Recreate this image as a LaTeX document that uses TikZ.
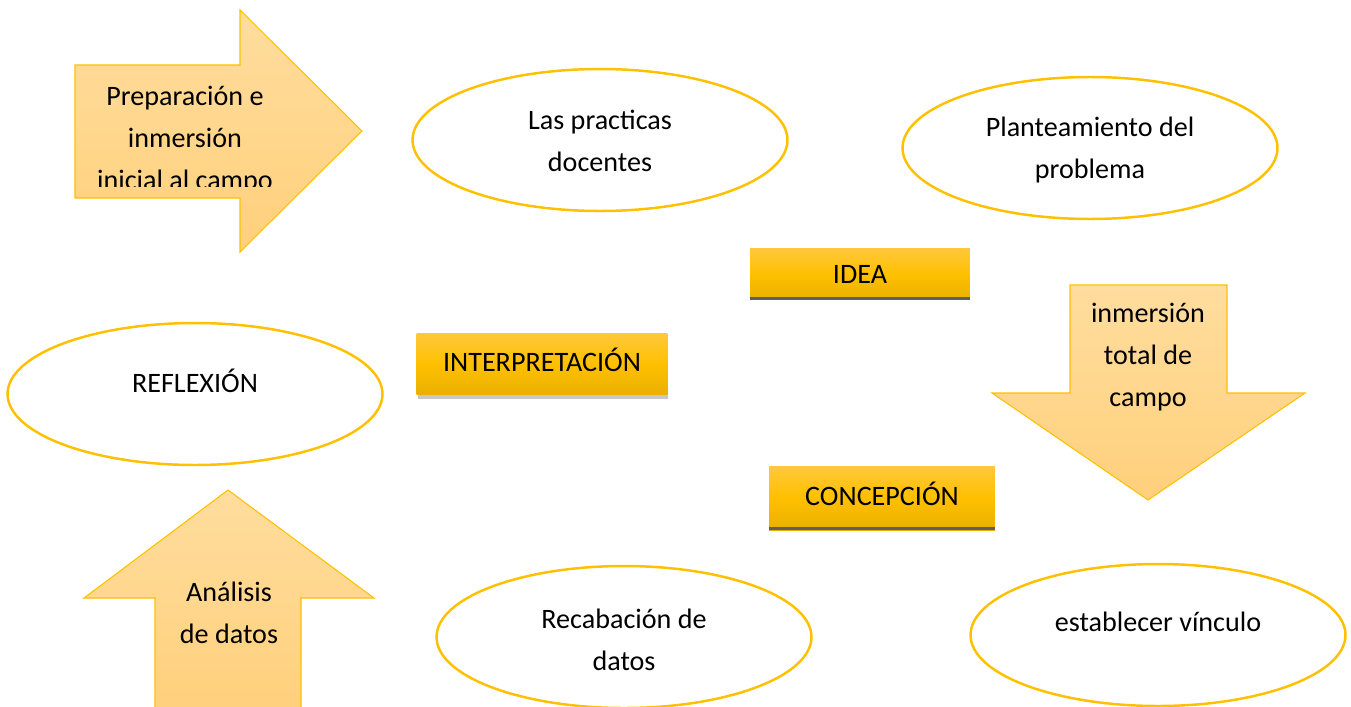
\documentclass[tikz,border=0pt]{standalone}
\usepackage{fontspec}
\setmainfont{Carlito}
\usetikzlibrary{shapes.geometric,shadows}

\definecolor{oro}{HTML}{FFC000}
\definecolor{orotop}{HTML}{FFC83C}
\definecolor{orobot}{HTML}{E9B000}
\definecolor{flechatop}{HTML}{FFDD9E}
\definecolor{flechabot}{HTML}{FFD07C}
\definecolor{raya}{HTML}{5E5E5E}

\tikzset{
  flecha/.style={draw=oro, line width=0.6pt, top color=flechatop, bottom color=flechabot},
  ovalo/.style={ellipse, draw=oro, line width=1.4pt, minimum width=7.5cm, minimum height=2.84cm},
  caja/.style={rectangle, inner sep=0pt, top color=orotop, bottom color=orobot, middle color=oro,
    font=\fontsize{16}{19}\selectfont},
  texto/.style={align=center, inner sep=0pt, font=\fontsize{16}{23.9}\selectfont},
}

\begin{document}
\begin{tikzpicture}[x=0.02cm, y=-0.02cm]
				\clip (0,0) rectangle (1351,706);
				
				% flechas
				\draw[flecha] (75,65) -- (240,65) -- (240,10) -- (362,131) -- (240,252) -- (240,198) -- (75,198) -- cycle;
				\draw[flecha] (1070,285) -- (1227,285) -- (1227,393) -- (1305,393) -- (1148,500) -- (992,393) -- (1070,393) -- cycle;
				\draw[flecha] (155,712) -- (155,598) -- (84,598) -- (228,490) -- (374,598) -- (301,598) -- (301,712);
				
				\begin{scope}
					\clip (60,60) rectangle (300,186);
					\node[texto] (preparacion) at (185,140) {Preparación e\\inmersión\\inicial al campo};
				\end{scope}
				\node[texto] (inmersion) at (1148,357) {inmersión\\total de\\campo};
				\node[texto] (analisis) at (229,613) {Análisis\\de datos};
				
				% ovalos
				\node[ovalo] (practicas) at (600,140) {};
				\node[ovalo] (planteamiento) at (1090,148) {};
				\node[ovalo] (reflexion) at (195,394) {};
				\node[ovalo] (recabacion) at (624,637) {};
				\node[ovalo] (vinculo) at (1158,635) {};
				
				\node[texto] (practicastxt) at (600,141) {Las practicas\\docentes};
				\node[texto] (planteamientotxt) at (1090,150) {Planteamiento del\\problema};
				\node[texto] (reflexiontxt) at (195,381) {REFLEXIÓN};
				\node[texto] (recabaciontxt) at (624,640) {Recabación de\\datos};
				\node[texto] (vinculotxt) at (1158,622) {establecer vínculo};
				
				% cajas
				\node[caja, minimum width=4.4cm, minimum height=1.04cm] (idea) at (860,274) {IDEA};
				\draw[raya, line width=1.7pt] ([yshift=0.8pt]idea.south west) -- ([yshift=0.8pt]idea.south east);
				
				\node[caja, minimum width=5.02cm, minimum height=1.24cm, text depth=0.18cm,
					drop shadow={shadow xshift=0.02cm, shadow yshift=-0.08cm, opacity=0.22, fill=black}] (interpretacion) at (542,364) {INTERPRETACIÓN};
				
				\node[caja, minimum width=4.52cm, minimum height=1.28cm, text depth=0.18cm] (concepcion) at (882,498) {CONCEPCIÓN};
				\draw[raya, line width=1.7pt] ([yshift=0.8pt]concepcion.south west) -- ([yshift=0.8pt]concepcion.south east);
			\end{tikzpicture}
\end{document}
